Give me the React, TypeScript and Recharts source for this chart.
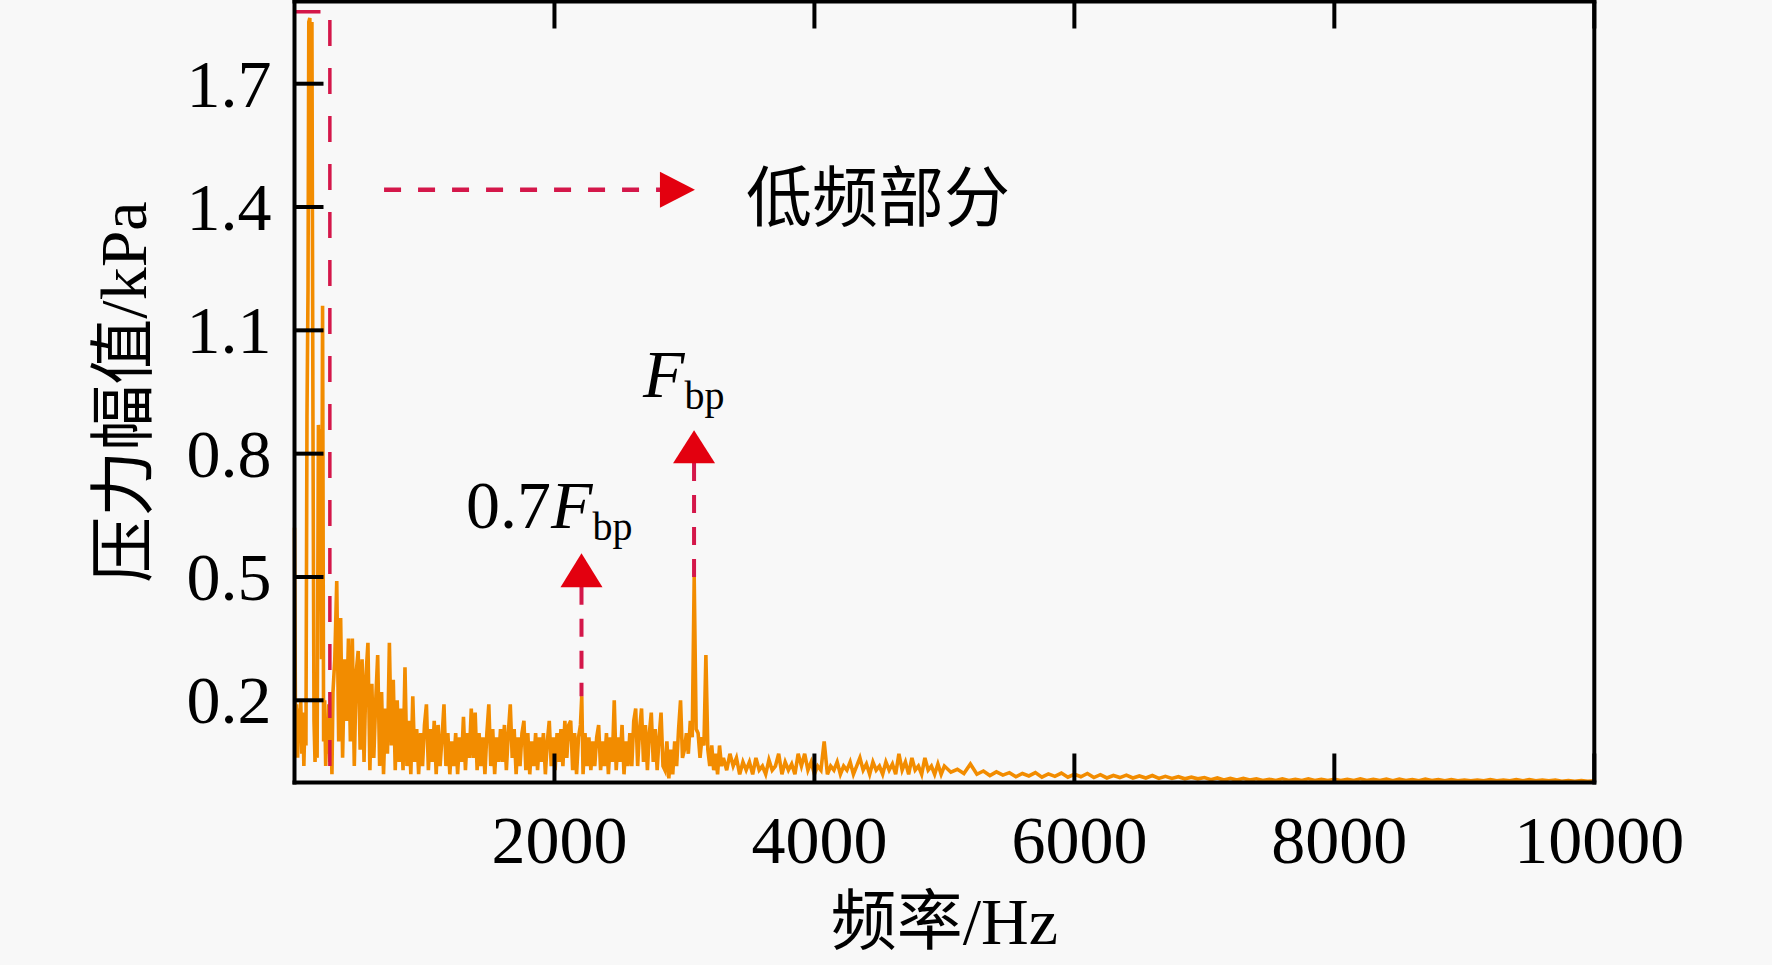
import React from 'react';
import { LineChart, Line, XAxis, YAxis, ReferenceLine, ReferenceDot } from 'recharts';

// 0 - 300 Hz, the low frequency part
const lowBandHz = [0, 8, 16, 24, 32, 40, 48, 56, 64, 72, 80, 88, 96, 104, 110, 118, 126, 134, 142, 150, 158, 166, 174, 184, 192, 200, 208, 216, 224, 232, 240, 248, 256, 264, 272, 280, 288, 296];
const lowBandKPa = [0.62, 0.12, 0.19, 0.06, 0.18, 0.1, 0.2, 0.07, 0.17, 0.04, 0.15, 0.09, 0.89, 1.2, 1.85, 1.86, 1.4, 1.85, 0.88, 0.15, 0.05, 0.14, 0.06, 0.87, 0.5, 0.86, 0.3, 1.16, 0.1, 0.2, 0.04, 0.15, 0.07, 0.19, 0.05, 0.14, 0.02, 0.22];

// 300 - 3300 Hz
const midBandHz = [310, 325, 340, 355, 370, 385, 400, 415, 430, 445, 460, 475, 490, 505, 520, 535, 550, 565, 580, 595, 610, 625, 640, 655, 670, 685, 700, 715, 730, 745, 760, 775, 790, 805, 820, 835, 850, 865, 880, 895, 910, 925, 940, 955, 970, 985, 1000, 1015, 1030, 1045, 1060, 1075, 1090, 1105, 1120, 1135, 1150, 1165, 1180, 1195, 1210, 1225, 1240, 1255, 1270, 1285, 1300, 1315, 1330, 1345, 1360, 1375, 1390, 1405, 1420, 1435, 1450, 1465, 1480, 1495, 1510, 1525, 1540, 1555, 1570, 1585, 1600, 1615, 1630, 1645, 1660, 1675, 1690, 1705, 1720, 1735, 1750, 1765, 1780, 1795, 1810, 1825, 1840, 1855, 1870, 1885, 1900, 1915, 1930, 1945, 1960, 1975, 1990, 2005, 2020, 2035, 2050, 2065, 2080, 2095, 2110, 2125, 2140, 2155, 2170, 2185, 2200, 2210, 2220, 2235, 2250, 2265, 2280, 2295, 2310, 2325, 2340, 2355, 2370, 2385, 2400, 2415, 2430, 2445, 2460, 2475, 2490, 2505, 2520, 2535, 2550, 2565, 2580, 2595, 2610, 2625, 2640, 2655, 2670, 2685, 2700, 2715, 2730, 2745, 2760, 2775, 2790, 2805, 2820, 2835, 2850, 2865, 2880, 2895, 2910, 2925, 2940, 2955, 2970, 2985, 3000, 3015, 3030, 3045, 3060, 3075, 3090, 3105, 3120, 3135, 3150, 3165, 3180, 3195, 3210, 3225, 3240, 3255, 3270, 3285, 3300];
const midBandKPa = [0.3, 0.49, 0.1, 0.4, 0.06, 0.3, 0.15, 0.35, 0.1, 0.35, 0.04, 0.27, 0.32, 0.08, 0.3, 0.05, 0.26, 0.34, 0.03, 0.24, 0.06, 0.2, 0.31, 0.04, 0.22, 0.02, 0.18, 0.07, 0.34, 0.09, 0.25, 0.03, 0.2, 0.05, 0.18, 0.03, 0.28, 0.04, 0.15, 0.02, 0.21, 0.05, 0.13, 0.02, 0.12, 0.04, 0.14, 0.19, 0.03, 0.13, 0.05, 0.15, 0.02, 0.14, 0.04, 0.11, 0.19, 0.04, 0.12, 0.02, 0.1, 0.04, 0.12, 0.02, 0.11, 0.05, 0.16, 0.03, 0.12, 0.06, 0.18, 0.06, 0.17, 0.03, 0.12, 0.04, 0.11, 0.02, 0.12, 0.19, 0.04, 0.13, 0.02, 0.11, 0.05, 0.13, 0.05, 0.14, 0.03, 0.12, 0.19, 0.06, 0.13, 0.02, 0.11, 0.04, 0.12, 0.15, 0.03, 0.12, 0.02, 0.1, 0.04, 0.12, 0.03, 0.11, 0.05, 0.12, 0.02, 0.1, 0.15, 0.04, 0.11, 0.03, 0.12, 0.05, 0.13, 0.04, 0.15, 0.06, 0.14, 0.15, 0.03, 0.12, 0.02, 0.11, 0.14, 0.21, 0.02, 0.12, 0.04, 0.11, 0.03, 0.1, 0.04, 0.11, 0.14, 0.03, 0.1, 0.04, 0.12, 0.02, 0.11, 0.05, 0.2, 0.03, 0.11, 0.05, 0.14, 0.02, 0.1, 0.04, 0.12, 0.04, 0.15, 0.18, 0.04, 0.13, 0.18, 0.05, 0.14, 0.03, 0.12, 0.17, 0.05, 0.13, 0.03, 0.11, 0.17, 0.04, 0.03, 0.1, 0.01, 0.08, 0.02, 0.1, 0.04, 0.13, 0.2, 0.06, 0.08, 0.12, 0.07, 0.15, 0.11, 0.5, 0.13, 0.12, 0.06, 0.11, 0.09, 0.31, 0.08, 0.04, 0.09, 0.03, 0.07, 0.02, 0.09, 0.04, 0.06];

// 3300 - 5000 Hz
const tailBandHz = [3325, 3350, 3375, 3400, 3425, 3450, 3475, 3500, 3525, 3550, 3575, 3600, 3625, 3650, 3675, 3700, 3725, 3750, 3775, 3800, 3825, 3850, 3875, 3900, 3925, 3950, 3975, 4000, 4025, 4050, 4075, 4100, 4125, 4150, 4175, 4200, 4225, 4250, 4275, 4300, 4325, 4350, 4375, 4400, 4425, 4450, 4475, 4500, 4525, 4550, 4575, 4600, 4625, 4650, 4675, 4700, 4725, 4750, 4775, 4800, 4825, 4850, 4875, 4900, 4925, 4950, 4975, 5000];
const tailBandKPa = [0.03, 0.07, 0.04, 0.06, 0.02, 0.05, 0.03, 0.05, 0.02, 0.06, 0.03, 0.04, 0.02, 0.055, 0.03, 0.04, 0.07, 0.02, 0.05, 0.03, 0.045, 0.02, 0.07, 0.04, 0.07, 0.03, 0.05, 0.02, 0.04, 0.03, 0.1, 0.02, 0.04, 0.03, 0.05, 0.02, 0.04, 0.03, 0.05, 0.02, 0.04, 0.06, 0.03, 0.045, 0.02, 0.05, 0.03, 0.04, 0.02, 0.05, 0.03, 0.045, 0.02, 0.07, 0.03, 0.05, 0.02, 0.06, 0.03, 0.04, 0.02, 0.06, 0.03, 0.04, 0.02, 0.045, 0.02, 0.04];

// 5000 - 10000 Hz
const farBandHz = [5050, 5100, 5150, 5200, 5250, 5300, 5350, 5400, 5450, 5500, 5550, 5600, 5650, 5700, 5750, 5800, 5850, 5900, 5950, 6000, 6050, 6100, 6150, 6200, 6250, 6300, 6350, 6400, 6450, 6500, 6550, 6600, 6650, 6700, 6750, 6800, 6850, 6900, 6950, 7000, 7050, 7100, 7150, 7200, 7250, 7300, 7350, 7400, 7450, 7500, 7550, 7600, 7650, 7700, 7750, 7800, 7850, 7900, 7950, 8000, 8050, 8100, 8150, 8200, 8250, 8300, 8350, 8400, 8450, 8500, 8550, 8600, 8650, 8700, 8750, 8800, 8850, 8900, 8950, 9000, 9050, 9100, 9150, 9200, 9250, 9300, 9350, 9400, 9450, 9500, 9550, 9600, 9650, 9700, 9750, 9800, 9850, 9900, 9950, 10000];
const farBandKPa = [0.025, 0.032, 0.022, 0.045, 0.02, 0.028, 0.017, 0.026, 0.018, 0.024, 0.014, 0.022, 0.016, 0.024, 0.013, 0.021, 0.015, 0.023, 0.013, 0.02, 0.014, 0.022, 0.012, 0.019, 0.011, 0.017, 0.012, 0.018, 0.011, 0.016, 0.011, 0.017, 0.01, 0.015, 0.01, 0.014, 0.009, 0.013, 0.009, 0.012, 0.007, 0.011, 0.006, 0.01, 0.006, 0.01, 0.006, 0.009, 0.005, 0.008, 0.005, 0.009, 0.005, 0.008, 0.005, 0.009, 0.005, 0.008, 0.005, 0.008, 0.005, 0.008, 0.005, 0.009, 0.005, 0.008, 0.005, 0.008, 0.004, 0.008, 0.005, 0.007, 0.004, 0.008, 0.005, 0.007, 0.004, 0.007, 0.004, 0.006, 0.004, 0.006, 0.004, 0.007, 0.004, 0.006, 0.004, 0.007, 0.004, 0.007, 0.004, 0.006, 0.004, 0.006, 0.003, 0.005, 0.003, 0.005, 0.003, 0.004];

const freqTicks = [2000, 4000, 6000, 8000, 10000];
const ampTicks = [0.2, 0.5, 0.8, 1.1, 1.4, 1.7];

// annotation anchors (Hz, kPa)
const lowBoxEdgeHz = 272;
const lowBoxTop = 1.875;
const bpfHz = 3074;
const bpf07Hz = 2208;

const bandsHz = [lowBandHz, midBandHz, tailBandHz, farBandHz];
const bandsKPa = [lowBandKPa, midBandKPa, tailBandKPa, farBandKPa];
const spectrum = bandsHz.flatMap((hz, b) => hz.map((f, i) => ({ f, a: bandsKPa[b][i] })));

const serif = '"Liberation Serif", "Times New Roman", serif';
const mixed = '"Liberation Serif", "Noto Sans CJK SC", serif';
const dashRed = '#d4174a';
const arrowRed = '#e3000f';

const BottomTick = (props: any) => {
  const { x, y, payload } = props;
  return (
    <g>
      <line x1={x} y1={y} x2={x} y2={y - 29} stroke="#000" strokeWidth={4} />
      <text x={x + 5} y={y + 80} textAnchor="middle" fontFamily={serif} fontSize={68} fill="#000">
        {payload.value}
      </text>
    </g>
  );
};

const TopTick = (props: any) => {
  const { x, y } = props;
  return <line x1={x} y1={y} x2={x} y2={y + 27} stroke="#000" strokeWidth={4} />;
};

const LeftTick = (props: any) => {
  const { x, y, payload } = props;
  return (
    <g>
      <line x1={x} y1={y} x2={x + 29} y2={y} stroke="#000" strokeWidth={4} />
      <text x={x - 23} y={y + 23} textAnchor="end" fontFamily={serif} fontSize={68} fill="#000">
        {Number(payload.value).toFixed(1)}
      </text>
    </g>
  );
};

const RightTick = (props: any) => {
  const { x, y } = props;
  return <line x1={x} y1={y} x2={x - 30} y2={y} stroke="#000" strokeWidth={4} />;
};

const frame = { stroke: '#000', strokeWidth: 4, strokeLinecap: 'square' as const };

export default function App() {
  return (
    <div style={{ position: 'fixed', left: 0, top: 0, width: 1772, height: 965, background: '#f8f8f8' }}>
      <LineChart
        width={1772}
        height={965}
        data={spectrum}
        margin={{ top: 0.5, right: 167.7, bottom: 82.5, left: 214.5 }}
      >
        <XAxis
          xAxisId="bottom"
          dataKey="f"
          type="number"
          domain={[0, 10000]}
          ticks={freqTicks}
          interval={0}
          height={100}
          tickSize={0}
          tickMargin={0}
          tickLine={false}
          axisLine={frame}
          tick={<BottomTick />}
          label={{
            content: (p: any) => {
              const vb = p.viewBox || { x: 294.5, width: 1300 };
              return (
                <text x={vb.x + vb.width / 2} y={921} textAnchor="middle" dominantBaseline="central" fontFamily={mixed} fontSize={66} fill="#000">
                  频率/Hz
                </text>
              );
            },
          }}
        />
        <XAxis
          xAxisId="top"
          orientation="top"
          dataKey="f"
          type="number"
          domain={[0, 10000]}
          ticks={freqTicks}
          interval={0}
          height={1}
          tickSize={0}
          tickMargin={0}
          tickLine={false}
          axisLine={frame}
          tick={<TopTick />}
        />
        <YAxis
          yAxisId="left"
          type="number"
          domain={[0, 1.9]}
          ticks={ampTicks}
          interval={0}
          width={80}
          tickSize={0}
          tickMargin={0}
          tickLine={false}
          axisLine={frame}
          tick={<LeftTick />}
          label={{
            content: () => (
              <text
                x={123}
                y={392}
                transform="rotate(-90 123 392)"
                textAnchor="middle"
                dominantBaseline="central"
                fontFamily={mixed}
                fontSize={66}
                fill="#000"
              >
                压力幅值/kPa
              </text>
            ),
          }}
        />
        <YAxis
          yAxisId="right"
          orientation="right"
          type="number"
          domain={[0, 1.9]}
          ticks={ampTicks}
          interval={0}
          width={10}
          tickSize={0}
          tickMargin={0}
          tickLine={false}
          axisLine={frame}
          tick={<RightTick />}
        />
        <Line
          xAxisId="bottom"
          yAxisId="left"
          dataKey="a"
          type="linear"
          stroke="#f28c00"
          strokeWidth={3.6}
          dot={false}
          activeDot={false}
          isAnimationActive={false}
        />

        {/* low frequency window */}
        <ReferenceLine
          xAxisId="bottom"
          yAxisId="left"
          segment={[{ x: 0, y: lowBoxTop }, { x: lowBoxEdgeHz, y: lowBoxTop }]}
          stroke={dashRed}
          strokeWidth={3.5}
          strokeDasharray="26 22"
        />
        <ReferenceLine
          xAxisId="bottom"
          yAxisId="left"
          segment={[{ x: lowBoxEdgeHz, y: lowBoxTop - 0.02 }, { x: lowBoxEdgeHz, y: 0 }]}
          stroke={dashRed}
          strokeWidth={3.5}
          strokeDasharray="26 22"
        />
        <ReferenceLine
          xAxisId="bottom"
          yAxisId="left"
          segment={[{ x: 689, y: 1.442 }, { x: 2820, y: 1.442 }]}
          stroke={dashRed}
          strokeWidth={4.5}
          strokeDasharray="17 17"
        />
        <ReferenceDot
          xAxisId="bottom"
          yAxisId="left"
          x={3081}
          y={1.442}
          r={0}
          shape={(p: any) => (
            <path d={`M${p.cx},${p.cy} L${p.cx - 35},${p.cy - 18} L${p.cx - 35},${p.cy + 18} Z`} fill={arrowRed} />
          )}
        />
        <ReferenceDot
          xAxisId="bottom"
          yAxisId="left"
          x={3474}
          y={1.42}
          r={0}
          shape={(p: any) => (
            <text x={p.cx} y={p.cy} dominantBaseline="central" fontFamily={mixed} fontSize={66} fill="#000">
              低频部分
            </text>
          )}
        />

        {/* 0.7 Fbp */}
        <ReferenceLine
          xAxisId="bottom"
          yAxisId="left"
          segment={[{ x: bpf07Hz, y: 0.476 }, { x: bpf07Hz, y: 0.21 }]}
          stroke={dashRed}
          strokeWidth={4}
          strokeDasharray="18 14"
        />
        <ReferenceDot
          xAxisId="bottom"
          yAxisId="left"
          x={bpf07Hz}
          y={0.558}
          r={0}
          shape={(p: any) => (
            <path d={`M${p.cx},${p.cy} L${p.cx - 21},${p.cy + 34} L${p.cx + 21},${p.cy + 34} Z`} fill={arrowRed} />
          )}
        />
        <ReferenceDot
          xAxisId="bottom"
          yAxisId="left"
          x={1319}
          y={0.619}
          r={0}
          shape={(p: any) => (
            <text x={p.cx} y={p.cy} fontFamily={serif} fontSize={68} fill="#000">
              0.7<tspan fontStyle="italic">F</tspan>
              <tspan fontSize={40} dy={12}>bp</tspan>
            </text>
          )}
        />

        {/* Fbp */}
        <ReferenceLine
          xAxisId="bottom"
          yAxisId="left"
          segment={[{ x: bpfHz, y: 0.777 }, { x: bpfHz, y: 0.5 }]}
          stroke={dashRed}
          strokeWidth={4}
          strokeDasharray="18 14"
        />
        <ReferenceDot
          xAxisId="bottom"
          yAxisId="left"
          x={bpfHz}
          y={0.857}
          r={0}
          shape={(p: any) => (
            <path d={`M${p.cx},${p.cy} L${p.cx - 21},${p.cy + 33} L${p.cx + 21},${p.cy + 33} Z`} fill={arrowRed} />
          )}
        />
        <ReferenceDot
          xAxisId="bottom"
          yAxisId="left"
          x={2681}
          y={0.938}
          r={0}
          shape={(p: any) => (
            <text x={p.cx} y={p.cy} fontFamily={serif} fontSize={68} fill="#000">
              <tspan fontStyle="italic">F</tspan>
              <tspan fontSize={40} dy={12}>bp</tspan>
            </text>
          )}
        />
      </LineChart>
    </div>
  );
}
